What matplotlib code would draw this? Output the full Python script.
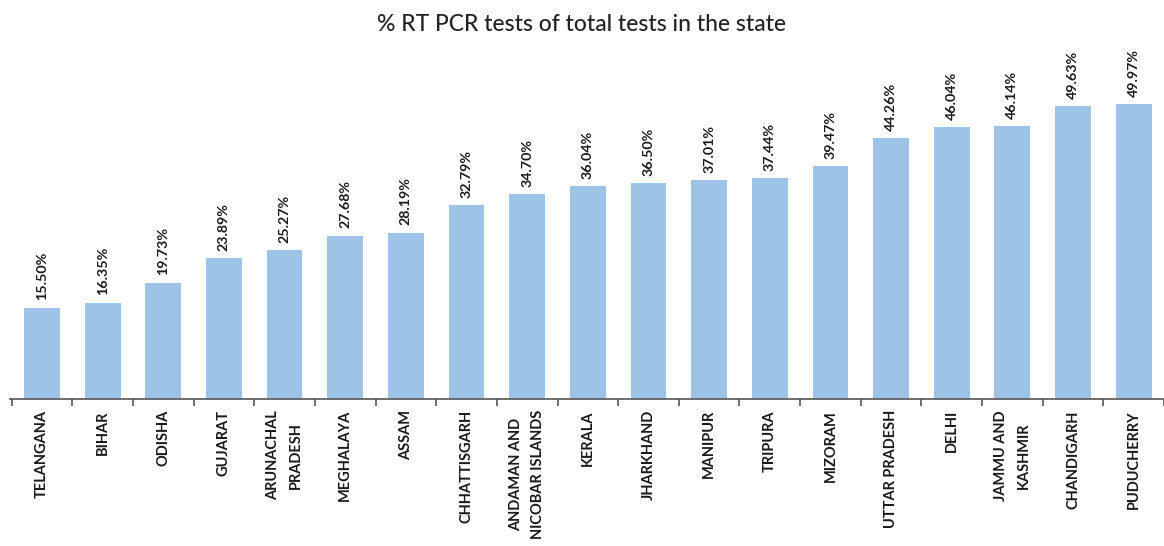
import numpy as np
import matplotlib.pyplot as plt

states = ["TELANGANA", "BIHAR", "ODISHA", "GUJARAT", "ARUNACHAL\nPRADESH",
          "MEGHALAYA", "ASSAM", "CHHATTISGARH", "ANDAMAN AND\nNICOBAR ISLANDS",
          "KERALA", "JHARKHAND", "MANIPUR", "TRIPURA", "MIZORAM",
          "UTTAR PRADESH", "DELHI", "JAMMU AND\nKASHMIR", "CHANDIGARH", "PUDUCHERRY"]
pct = [15.50, 16.35, 19.73, 23.89, 25.27, 27.68, 28.19, 32.79, 34.70,
       36.04, 36.50, 37.01, 37.44, 39.47, 44.26, 46.04, 46.14, 49.63, 49.97]

plt.rcParams['font.family'] = ['Lato', 'DejaVu Sans']

fig = plt.figure(figsize=(11.64, 5.46), dpi=100)
ax = fig.add_axes([0.009, 0.269, 0.991, 0.658])

x = np.arange(len(states))
ax.bar(x, pct, width=0.59, color='#9dc3e6')

for xi, v in zip(x, pct):
    ax.text(xi, v + 1.2, f"{v:.2f}%", rotation=90, ha='center', va='bottom',
            fontsize=10.3, fontweight='bold', color='#1a1a1a')

ax.set_xlim(-0.52, 18.5)
ax.set_ylim(0, 60.8)
for s in ['top', 'right', 'left']:
    ax.spines[s].set_visible(False)
ax.spines['bottom'].set_color('#555555')
ax.spines['bottom'].set_linewidth(1.2)
ax.set_yticks([])
ax.set_xticks([])
ax.set_xticks(np.arange(-0.5, len(states)), minor=True)
ax.tick_params(axis='x', which='minor', length=5, color='#555555', width=1.2)

# category labels: each line drawn on its own so wrapped lines are centred
renderer = fig.canvas.get_renderer()
lab = dict(rotation=90, ha='center', fontsize=10.5, fontweight='bold',
           color='#1a1a1a', xycoords=('data', 'axes fraction'),
           textcoords='offset points', annotation_clip=False)
top_pt = -8
gap_pt = 16
for xi, name in zip(x, states):
    lines = name.split("\n")
    n = len(lines)
    longest = max(lines, key=len)
    t = ax.annotate(longest, xy=(xi, 0), xytext=(0, top_pt), va='top', **lab)
    if n == 1:
        continue
    # measure the longest line and centre the others on it
    length_pt = t.get_window_extent(renderer).height * 72 / fig.dpi
    t.remove()
    for k, line in enumerate(lines):
        dx = (k - (n - 1) / 2) * gap_pt
        ax.annotate(line, xy=(xi, 0), xytext=(dx, top_pt - length_pt / 2),
                    va='center', **lab)

fig.text(0.5, 0.955, "% RT PCR tests of total tests in the state", ha='center',
         va='center', fontsize=16.5, fontweight='medium', color='#222222')

fig.savefig("out.png", dpi=100)
